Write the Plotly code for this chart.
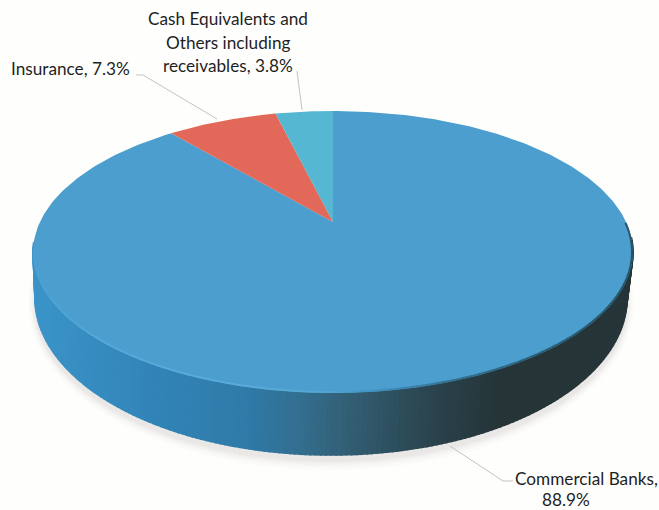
import numpy as np
import plotly.graph_objects as go

# Portfolio shares, clockwise from twelve o'clock
categories = ["Commercial Banks", "Insurance", "Cash Equivalents and Others including receivables"]
shares = [88.9, 7.3, 3.8]
slice_colors = ["#4b9ecd", "#e2695a", "#55b7d2"]

# Label lines for each category, with the share appended to the last line or placed on its own
label_lines = [
    ["Commercial Banks,", "88.9%"],
    ["Insurance, 7.3%"],
    ["Cash Equivalents and", "Others including", "receivables, 3.8%"],
]
label_pos = [
    [(586, 478), (566, 499)],
    [(70, 68)],
    [(228, 18), (228, 42), (228, 65)],
]

FONT = "Lato"
TEXT = "#1f1f1f"

# Perspective view of the disc: apex of the slices and projection constants
AX, AY = 333.0, 222.0
A, B, P = 293.1, 134.6, 0.2126


def project(frac):
    """Screen position of a rim point, frac = clockwise fraction from the top."""
    th = 2 * np.pi * np.asarray(frac)
    u, v = np.sin(th), np.cos(th)
    w = 1 + P * v
    return AX + A * u / w, AY - B * v / w


def ellipse(cx, cy, rx, ry, t):
    return cx + rx * np.cos(t), cy + ry * np.sin(t)


def lerp_color(x, stops):
    xs = [s[0] for s in stops]
    rgb = [np.interp(x, xs, [int(s[1][i:i + 2], 16) for s in stops]) for i in (1, 3, 5)]
    return "rgb(%d,%d,%d)" % tuple(int(round(c)) for c in rgb)


def poly(fig, x, y, color, line=0.0):
    fig.add_trace(go.Scatter(
        x=list(x), y=list(y), mode="lines", fill="toself", fillcolor=color,
        line=dict(color=color, width=line), hoverinfo="skip", showlegend=False))


fig = go.Figure()

# Soft shadow under the base
for g, a in zip(range(12, 0, -2), [0.012, 0.014, 0.018, 0.022, 0.03, 0.04]):
    tt = np.linspace(0, 2 * np.pi, 180)
    sx, sy = ellipse(331, 303, 296 + g * 0.6, 157 + g * 0.9, tt)
    poly(fig, sx, sy, "rgba(110,100,95,%.3f)" % a)

# Side wall, shaded left to right
side_stops = [(33, "#3b94c8"), (150, "#3285b8"), (250, "#2f7aa8"), (300, "#336f90"),
              (340, "#33627a"), (400, "#2e4e5c"), (450, "#2a3f48"), (500, "#263538"), (640, "#263538")]
edges = np.radians(np.linspace(184, -6, 191))
for t0, t1 in zip(edges[:-1], edges[1:]):
    pair = np.array([t0, t1])
    tx, ty = ellipse(333, 252, 300, 141, pair)
    bx, by = ellipse(331, 298, 296, 157, pair)
    col = lerp_color((tx[0] + tx[1]) / 2, side_stops)
    poly(fig, [tx[0], tx[1], bx[1], bx[0], tx[0]], [ty[0], ty[1], by[1], by[0], ty[0]], col, 1.6)

# Top face: one wedge per share
cum = np.concatenate([[0], np.cumsum(shares) / np.sum(shares)])
for i, col in enumerate(slice_colors):
    f = np.linspace(cum[i], cum[i + 1], max(int(shares[i] * 4), 12))
    rx, ry = project(f)
    poly(fig, [AX, *rx, AX], [AY, *ry, AY], col)

# Bevel along the front rim of the top face
rim_stops = [(33, "#4ba2d2"), (100, "#56a9d8"), (250, "#5aacd9"), (330, "#55a5d3"), (380, "#3f8fbd"),
             (450, "#32708f"), (560, "#2a5a70"), (640, "#27505f")]
rim = np.radians(np.linspace(180, -12, 193))
for t0, t1 in zip(rim[:-1], rim[1:]):
    ex, ey = ellipse(333, 252, 299, 140, np.array([t0, t1]))
    fig.add_trace(go.Scatter(
        x=ex, y=ey, mode="lines",
        line=dict(color=lerp_color(ex.mean(), rim_stops), width=2.0),
        hoverinfo="skip", showlegend=False))

# Leader lines
leaders = [
    ([136, 143, 217], [75, 75, 119]),
    ([297, 302], [71, 110]),
    ([450, 503, 513], [446, 481, 481]),
]
for lx, ly in leaders:
    fig.add_trace(go.Scatter(x=lx, y=ly, mode="lines", line=dict(color="#c4c4c0", width=1),
                             hoverinfo="skip", showlegend=False))

# Category labels
for lines, positions in zip(label_lines, label_pos):
    for text, (x, y) in zip(lines, positions):
        fig.add_annotation(x=x, y=y, text=text, showarrow=False, xanchor="center", yanchor="middle",
                           font=dict(family=FONT, size=17.2, color=TEXT))

fig.update_xaxes(range=[0, 659], visible=False, fixedrange=True)
fig.update_yaxes(range=[510, 0], visible=False, fixedrange=True)
fig.update_layout(width=659, height=510, margin=dict(l=0, r=0, t=0, b=0),
                  paper_bgcolor="#fefefd", plot_bgcolor="#fefefd", showlegend=False)

fig.write_html("out.html")
